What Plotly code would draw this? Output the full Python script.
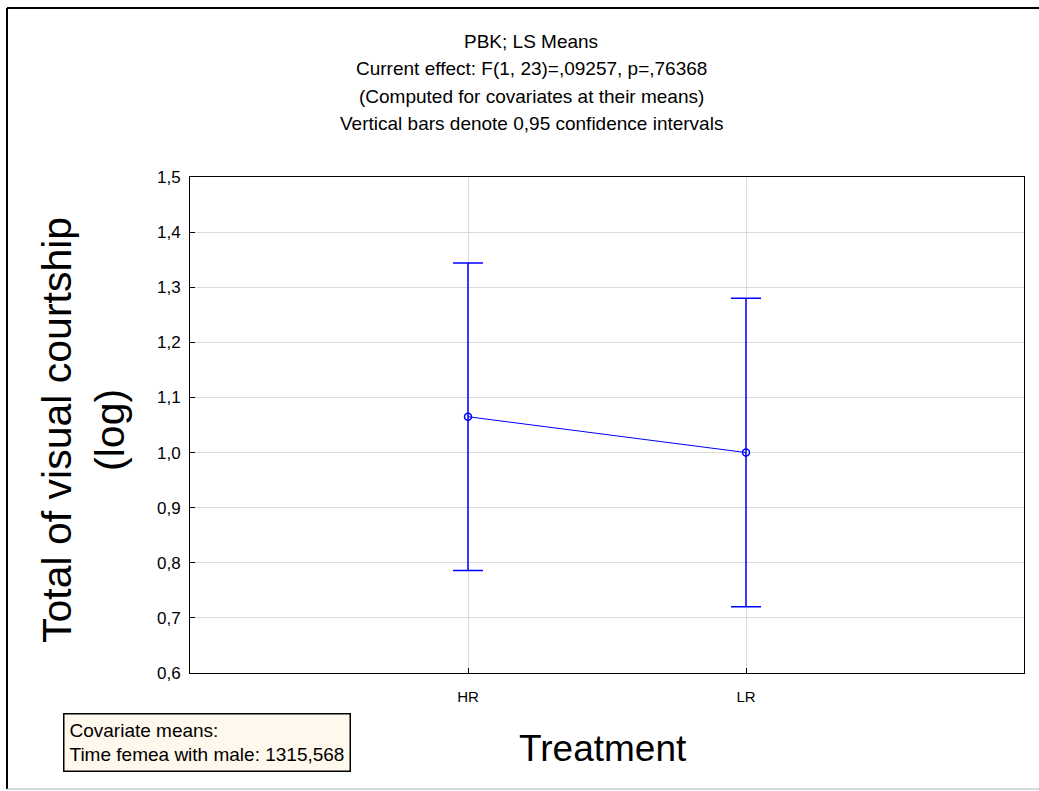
import plotly.graph_objects as go

categories = ["HR", "LR"]
means = [1.065, 1.0]
ci_half = [0.279, 0.280]
y_ticks = [0.6, 0.7, 0.8, 0.9, 1.0, 1.1, 1.2, 1.3, 1.4, 1.5]
y_tick_labels = ["0,6", "0,7", "0,8", "0,9", "1,0", "1,1", "1,2", "1,3", "1,4", "1,5"]
title_lines = [
    "PBK; LS Means",
    "Current effect: F(1, 23)=,09257, p=,76368",
    "(Computed for covariates at their means)",
    "Vertical bars denote 0,95 confidence intervals",
]
covariate_text = ["Covariate means:", "Time femea with male: 1315,568"]

font_family = "Liberation Sans, Arial, sans-serif"
blue = "#0000FF"
W, H = 1039, 791
L, R, T, B = 190, 15, 177, 118
PW, PH = W - L - R, H - T - B


def px(x):
    return (x - L) / PW


def py(y):
    return (H - B - y) / PH


fig = go.Figure()
fig.add_trace(go.Scatter(
    x=categories, y=means, mode="lines+markers",
    line=dict(color=blue, width=1),
    marker=dict(symbol="circle-open", size=7, color=blue, line=dict(width=1.5)),
    error_y=dict(type="data", array=ci_half, visible=True, color=blue, thickness=1.5, width=15),
    showlegend=False,
))

fig.update_layout(
    width=W, height=H,
    margin=dict(l=L, r=R, t=T, b=B),
    paper_bgcolor="white", plot_bgcolor="white",
    font=dict(family=font_family, size=12, color="#000000"),
    xaxis=dict(
        type="category", range=[-1, 2],
        showgrid=True, gridcolor="#DCDCDC", gridwidth=1,
        showline=True, linecolor="black", linewidth=1, mirror=True,
        ticks="inside", ticklen=5, tickcolor="black",
        ticklabelstandoff=10,
        tickfont=dict(size=15, family=font_family, color="#000000"),
        zeroline=False, title=None,
    ),
    yaxis=dict(
        range=[0.6, 1.5], tickvals=y_ticks, ticktext=y_tick_labels,
        showgrid=True, gridcolor="#DCDCDC", gridwidth=1,
        showline=True, linecolor="black", linewidth=1, mirror=True,
        ticks="inside", ticklen=5, tickcolor="black",
        ticklabelstandoff=5,
        tickfont=dict(size=17, family=font_family, color="#000000"),
        zeroline=False, title=None,
    ),
)

# Title lines
title_y = [42, 69, 97, 124]
for txt, yy in zip(title_lines, title_y):
    fig.add_annotation(
        text=txt, xref="paper", yref="paper",
        x=px(531), y=py(yy),
        showarrow=False, xanchor="center", yanchor="middle",
        font=dict(size=19, family=font_family, color="black"),
    )

# Y-axis title (two lines, rotated)
fig.add_annotation(
    text="Total of visual courtship<br>(log)", xref="paper", yref="paper",
    x=px(83), y=py(430),
    showarrow=False, textangle=-90, xanchor="center", yanchor="middle",
    font=dict(size=41, family=font_family, color="black"),
)

# X-axis title
fig.add_annotation(
    text="Treatment", xref="paper", yref="paper",
    x=px(603), y=py(748),
    showarrow=False, xanchor="center", yanchor="middle",
    font=dict(size=37, family=font_family, color="black"),
)

# Covariate box
fig.add_annotation(
    text="<br>".join(covariate_text), xref="paper", yref="paper",
    x=px(63), y=py(713),
    showarrow=False, xanchor="left", yanchor="top", align="left",
    bgcolor="#FFF8EC", bordercolor="black", borderwidth=1.5, borderpad=5,
    font=dict(size=19, family=font_family, color="black"),
)

# Outer frame (window-style border)
fig.add_shape(type="line", xref="paper", yref="paper",
              x0=px(7), x1=px(W), y0=py(8), y1=py(8),
              line=dict(color="black", width=2))
fig.add_shape(type="line", xref="paper", yref="paper",
              x0=px(7), x1=px(7), y0=py(8), y1=py(789),
              line=dict(color="black", width=2))
fig.add_shape(type="line", xref="paper", yref="paper",
              x0=px(7), x1=px(W), y0=py(789), y1=py(789),
              line=dict(color="#B0B0B0", width=1))

fig.write_html("out.html", config={"displayModeBar": False},
               post_script="document.body.style.margin='0';")
